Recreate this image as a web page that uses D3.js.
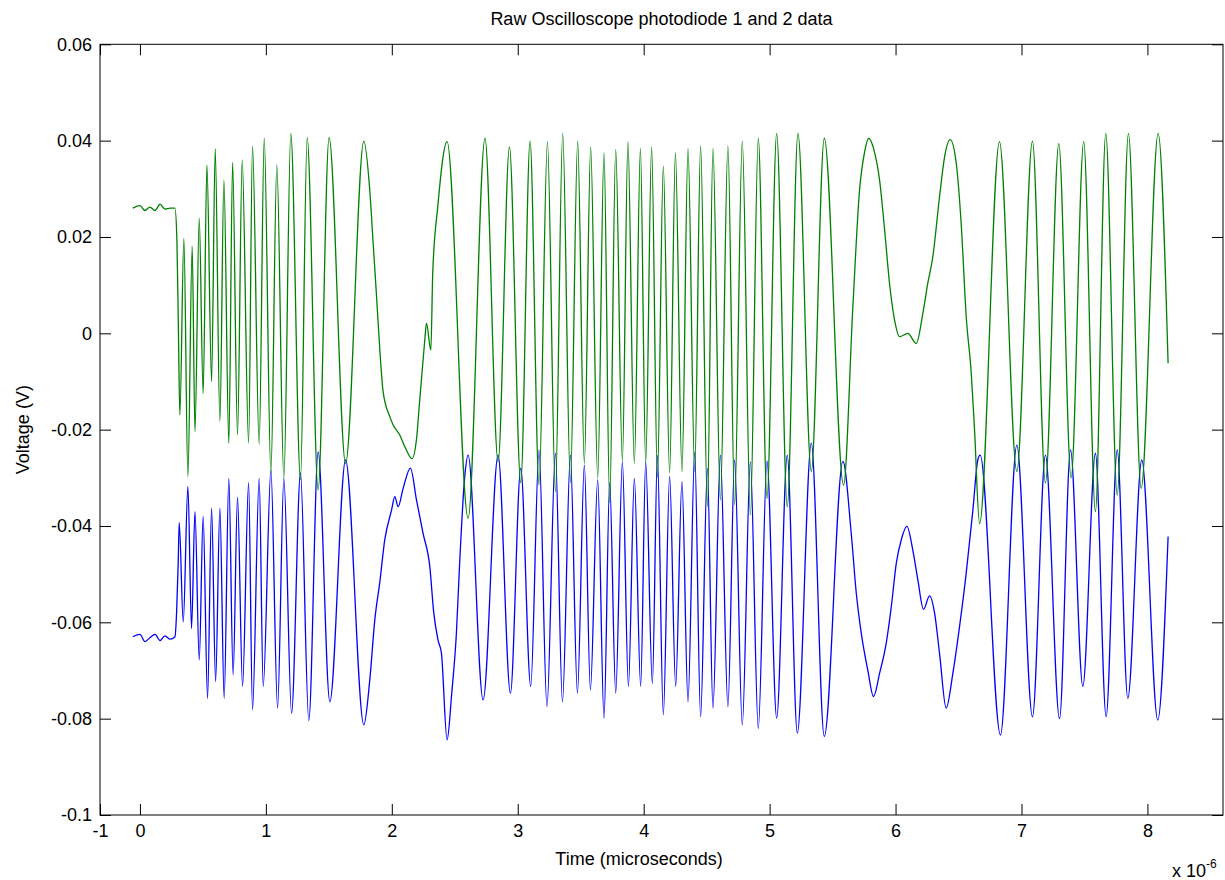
<!DOCTYPE html>
<html>
<head>
<meta charset="utf-8">
<script src="https://cdn.jsdelivr.net/npm/d3@7/dist/d3.min.js"></script>
<style>
  html, body { margin: 0; padding: 0; background: #ffffff; }
  svg { display: block; }
  text { font-family: "Liberation Sans", Arial, Helvetica, sans-serif; fill: #000; }
</style>
</head>
<body>
<svg id="chart" width="1225" height="880"></svg>
<script>
// ---------------- data (time in units of 1e-6 s, voltage in V) ----------------
const pd1Time = [-0.056,0.0,0.04,0.079,0.12,0.16,0.198,0.24,0.278,0.291,0.304,0.312,0.344,0.381,0.410,0.437,0.471,0.502,0.537,0.569,0.601,0.635,0.669,0.706,0.740,0.775,0.815,0.863,0.894,0.947,0.979,1.040,1.093,1.143,1.204,1.275,1.341,1.415,1.508,1.633,1.778,1.825,1.865,1.905,1.944,1.998,2.024,2.050,2.090,2.148,2.196,2.248,2.302,2.333,2.367,2.394,2.439,2.476,2.513,2.540,2.579,2.606,2.725,2.844,2.942,3.024,3.103,3.169,3.232,3.299,3.355,3.418,3.474,3.529,3.577,3.635,3.685,3.730,3.778,3.831,3.879,3.926,3.976,4.016,4.069,4.109,4.156,4.206,4.254,4.304,4.352,4.405,4.452,4.506,4.550,4.609,4.669,4.722,4.783,4.847,4.910,4.979,5.056,5.140,5.220,5.331,5.434,5.582,5.648,5.688,5.728,5.780,5.825,5.873,5.926,5.966,6.006,6.045,6.090,6.137,6.177,6.222,6.270,6.310,6.349,6.402,6.455,6.508,6.561,6.614,6.653,6.672,6.833,6.963,7.087,7.190,7.302,7.389,7.487,7.587,7.672,7.760,7.844,7.955,8.082,8.164];
const pd1Volt = [-0.063,-0.0625,-0.064,-0.0632,-0.0625,-0.0638,-0.0628,-0.0635,-0.063,-0.0581,-0.0477,-0.0393,-0.0599,-0.0318,-0.0613,-0.037,-0.0678,-0.038,-0.0758,-0.0363,-0.0723,-0.0363,-0.0758,-0.0301,-0.0709,-0.034,-0.0733,-0.031,-0.0782,-0.0301,-0.0733,-0.0284,-0.0778,-0.0301,-0.0789,-0.029,-0.0804,-0.0246,-0.0765,-0.0263,-0.0813,-0.072,-0.0595,-0.0516,-0.0429,-0.0367,-0.0339,-0.036,-0.0322,-0.028,-0.0346,-0.0415,-0.0485,-0.058,-0.0637,-0.0664,-0.0844,-0.0747,-0.0622,-0.047,-0.0298,-0.0253,-0.0761,-0.0253,-0.0747,-0.028,-0.0733,-0.0242,-0.0775,-0.0249,-0.0765,-0.0253,-0.0747,-0.0273,-0.074,-0.0304,-0.0799,-0.031,-0.0747,-0.0267,-0.0733,-0.0301,-0.0733,-0.0267,-0.0727,-0.0253,-0.0792,-0.0297,-0.0733,-0.0308,-0.0765,-0.0246,-0.0796,-0.028,-0.0778,-0.0253,-0.0775,-0.0263,-0.0813,-0.0267,-0.082,-0.0265,-0.0799,-0.0253,-0.083,-0.0228,-0.0837,-0.0266,-0.0415,-0.0539,-0.0623,-0.070,-0.0754,-0.0706,-0.0643,-0.0568,-0.0477,-0.0429,-0.0401,-0.045,-0.0512,-0.0573,-0.0545,-0.0581,-0.0664,-0.0778,-0.0706,-0.0609,-0.0498,-0.0367,-0.0263,-0.0253,-0.0834,-0.0232,-0.0796,-0.0253,-0.080,-0.0242,-0.0733,-0.0249,-0.0796,-0.0242,-0.0758,-0.0263,-0.0803,-0.0422];

const pd2Time = [-0.056,0.0,0.04,0.079,0.12,0.16,0.198,0.24,0.278,0.294,0.306,0.317,0.349,0.381,0.415,0.437,0.471,0.502,0.532,0.569,0.598,0.635,0.667,0.706,0.736,0.775,0.812,0.863,0.894,0.947,0.987,1.040,1.087,1.143,1.198,1.275,1.328,1.415,1.502,1.633,1.778,1.825,1.852,1.879,1.905,1.931,1.984,2.010,2.063,2.103,2.161,2.196,2.222,2.262,2.275,2.310,2.325,2.365,2.439,2.606,2.740,2.844,2.934,3.024,3.098,3.169,3.236,3.299,3.357,3.418,3.476,3.529,3.579,3.635,3.685,3.730,3.778,3.831,3.875,3.926,3.974,4.016,4.063,4.109,4.156,4.206,4.252,4.304,4.352,4.405,4.452,4.506,4.550,4.609,4.669,4.722,4.783,4.847,4.910,4.979,5.056,5.140,5.225,5.331,5.434,5.587,5.661,5.714,5.754,5.786,5.833,5.873,5.913,5.952,5.992,6.032,6.098,6.164,6.217,6.256,6.296,6.349,6.389,6.434,6.482,6.521,6.561,6.601,6.627,6.667,6.825,6.963,7.087,7.190,7.296,7.394,7.494,7.587,7.669,7.760,7.849,7.950,8.085,8.164];
const pd2Volt = [0.026,0.0265,0.0255,0.0262,0.0255,0.0268,0.0258,0.026,0.026,0.019,0.0,-0.017,0.0197,-0.0298,0.0181,-0.0204,0.0239,-0.0125,0.0349,-0.010,0.0383,-0.0183,0.0318,-0.0228,0.0355,-0.0211,0.036,-0.0228,0.0389,-0.023,0.0405,-0.0291,0.0349,-0.0301,0.0415,-0.0304,0.0406,-0.0325,0.0406,-0.027,0.0399,0.0297,0.0187,0.0076,-0.0035,-0.0121,-0.0173,-0.019,-0.0211,-0.0235,-0.026,-0.022,-0.0138,-0.0014,0.0021,-0.0035,0.0125,0.0263,0.0398,-0.0384,0.0405,-0.0267,0.0387,-0.031,0.0399,-0.0315,0.0398,-0.0329,0.0415,-0.031,0.0399,-0.027,0.0387,-0.030,0.0375,-0.0352,0.0382,-0.0265,0.0398,-0.027,0.0384,-0.027,0.0387,-0.030,0.0347,-0.029,0.0375,-0.0287,0.0384,-0.0287,0.0389,-0.036,0.0384,-0.0346,0.0389,-0.0356,0.0399,-0.0377,0.0405,-0.0343,0.0415,-0.036,0.0415,-0.0287,0.0405,-0.0315,0.0055,0.0297,0.0376,0.0405,0.0376,0.0318,0.0215,0.0104,0.0028,-0.0007,0.0,-0.0021,0.0042,0.0104,0.0159,0.0283,0.0366,0.0402,0.0353,0.0228,0.0035,-0.0083,-0.020,-0.0395,0.0398,-0.0287,0.0399,-0.0311,0.0394,-0.030,0.0398,-0.037,0.0415,-0.0336,0.0415,-0.0322,0.0415,-0.0062];

const xTickValues = [-1,0,1,2,3,4,5,6,7,8];
const xTickLabels = ["-1","0","1","2","3","4","5","6","7","8"];
const yTickValues = [0.06,0.04,0.02,0,-0.02,-0.04,-0.06,-0.08,-0.1];
const yTickLabels = ["0.06","0.04","0.02","0","-0.02","-0.04","-0.06","-0.08","-0.1"];
const xDomain = [-0.317, 8.6];
const yDomain = [-0.1, 0.06];

const titleText = "Raw Oscilloscope photodiode 1 and 2 data";
const xLabelText = "Time (microseconds)";
const yLabelText = "Voltage (V)";

// ---------------- layout ----------------
const L = 100, R = 1223, T = 44.3, B = 815;
const svg = d3.select("#chart");

const x = d3.scaleLinear().domain(xDomain).range([L, R]).clamp(true);
const y = d3.scaleLinear().domain(yDomain).range([B, T]);

const tickLen = 11;
const fontSize = 18;

// series
const line = d3.line().x(d => x(d[0])).y(d => y(d[1])).curve(d3.curveMonotoneX);
const pd1 = pd1Time.map((t, i) => [t, pd1Volt[i]]);
const pd2 = pd2Time.map((t, i) => [t, pd2Volt[i]]);

const plot = svg.append("g");
plot.append("path").datum(pd1).attr("d", line)
  .attr("fill", "none").attr("stroke", "#0000ff").attr("stroke-width", 1.3).attr("stroke-linejoin", "round");
plot.append("path").datum(pd2).attr("d", line)
  .attr("fill", "none").attr("stroke", "#008000").attr("stroke-width", 1.3).attr("stroke-linejoin", "round");

// axes
const fmtX = v => xTickLabels[xTickValues.indexOf(v)];
const fmtY = v => yTickLabels[yTickValues.indexOf(v)];

function styleAxis(g) {
  g.select(".domain").remove();
  g.selectAll("line").attr("stroke", "#000").attr("stroke-width", 1);
  g.selectAll("text").style("font-size", fontSize + "px").attr("fill", "#000");
}

svg.append("g").attr("transform", `translate(0,${B})`)
  .call(d3.axisBottom(x).tickValues(xTickValues).tickFormat(fmtX).tickSize(-tickLen).tickSizeOuter(0).tickPadding(9))
  .call(styleAxis);
svg.append("g").attr("transform", `translate(0,${T})`)
  .call(d3.axisTop(x).tickValues(xTickValues).tickFormat("").tickSize(-tickLen).tickSizeOuter(0))
  .call(styleAxis);
svg.append("g").attr("transform", `translate(${L},0)`)
  .call(d3.axisLeft(y).tickValues(yTickValues).tickFormat(fmtY).tickSize(-tickLen).tickSizeOuter(0).tickPadding(8))
  .call(styleAxis);
svg.append("g").attr("transform", `translate(${R},0)`)
  .call(d3.axisRight(y).tickValues(yTickValues).tickFormat("").tickSize(-tickLen).tickSizeOuter(0))
  .call(styleAxis);

// box
svg.append("rect").attr("x", L).attr("y", T).attr("width", R - L).attr("height", B - T)
  .attr("fill", "none").attr("stroke", "#000").attr("stroke-width", 1);

// labels
svg.append("text").attr("x", (L + R) / 2).attr("y", 25).attr("text-anchor", "middle")
  .style("font-size", "18px").text(titleText);
svg.append("text").attr("x", 639).attr("y", 865).attr("text-anchor", "middle")
  .style("font-size", "18px").text(xLabelText);
svg.append("text").attr("transform", `translate(29,${(T + B) / 2}) rotate(-90)`).attr("text-anchor", "middle")
  .style("font-size", "18px").text(yLabelText);

const mult = svg.append("text").attr("x", 1172).attr("y", 877).style("font-size", "18px");
mult.append("tspan").text("x 10");
mult.append("tspan").attr("dy", -9).style("font-size", "12px").text("-6");
</script>
</body>
</html>
